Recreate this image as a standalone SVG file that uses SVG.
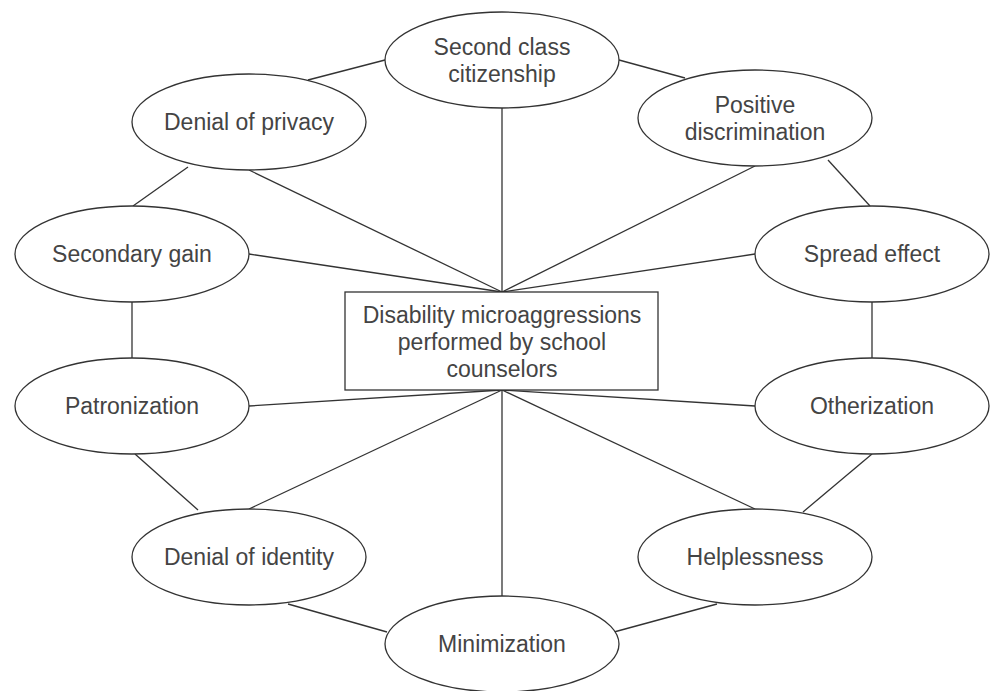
<svg xmlns="http://www.w3.org/2000/svg" width="992" height="691" viewBox="0 0 992 691">
<style>
.n ellipse,.n rect{fill:#fff;stroke:#333;stroke-width:1.3}
.c line{stroke:#333;stroke-width:1.3}
text{font-family:"Liberation Sans",Arial,sans-serif;font-size:23px;fill:#444;text-anchor:middle}
</style>
<rect width="992" height="691" fill="#fff"/>
<g class="c" id="connectors">
<line x1="502" y1="292" x2="502" y2="108"/>
<line x1="502" y1="292" x2="249" y2="170"/>
<line x1="502" y1="292" x2="755" y2="166"/>
<line x1="502" y1="292" x2="249" y2="254"/>
<line x1="502" y1="292" x2="755" y2="254"/>
<line x1="502" y1="390" x2="249" y2="406"/>
<line x1="502" y1="390" x2="755" y2="406"/>
<line x1="502" y1="390" x2="249" y2="509"/>
<line x1="502" y1="390" x2="755" y2="509"/>
<line x1="502" y1="390" x2="502" y2="596"/>
<line x1="385" y1="60" x2="308" y2="80"/>
<line x1="619" y1="60" x2="685" y2="78"/>
<line x1="188" y1="167" x2="133" y2="206"/>
<line x1="828" y1="160" x2="870" y2="206"/>
<line x1="132" y1="302" x2="132" y2="358"/>
<line x1="872" y1="302" x2="872" y2="358"/>
<line x1="135" y1="454" x2="198" y2="510"/>
<line x1="872" y1="454" x2="803" y2="512"/>
<line x1="288" y1="604" x2="387" y2="632"/>
<line x1="717" y1="604" x2="614" y2="632"/>
</g>
<g class="n" id="center"><rect x="345" y="292" width="313" height="98"/>
<text x="502" y="323">Disability microaggressions</text><text x="502" y="350">performed by school</text><text x="502" y="377">counselors</text></g>
<g class="n" id="second-class"><ellipse cx="502" cy="60" rx="117" ry="48"/><text x="502" y="55">Second class</text><text x="502" y="82">citizenship</text></g>
<g class="n" id="denial-privacy"><ellipse cx="249" cy="122" rx="117" ry="48"/><text x="249" y="130">Denial of privacy</text></g>
<g class="n" id="positive-discrimination"><ellipse cx="755" cy="118" rx="117" ry="48"/><text x="755" y="113">Positive</text><text x="755" y="140">discrimination</text></g>
<g class="n" id="secondary-gain"><ellipse cx="132" cy="254" rx="117" ry="48"/><text x="132" y="262">Secondary gain</text></g>
<g class="n" id="spread-effect"><ellipse cx="872" cy="254" rx="117" ry="48"/><text x="872" y="262">Spread effect</text></g>
<g class="n" id="patronization"><ellipse cx="132" cy="406" rx="117" ry="48"/><text x="132" y="414">Patronization</text></g>
<g class="n" id="otherization"><ellipse cx="872" cy="406" rx="117" ry="48"/><text x="872" y="414">Otherization</text></g>
<g class="n" id="denial-identity"><ellipse cx="249" cy="557" rx="117" ry="48"/><text x="249" y="565">Denial of identity</text></g>
<g class="n" id="helplessness"><ellipse cx="755" cy="557" rx="117" ry="48"/><text x="755" y="565">Helplessness</text></g>
<g class="n" id="minimization"><ellipse cx="502" cy="644" rx="117" ry="48"/><text x="502" y="652">Minimization</text></g>
</svg>
